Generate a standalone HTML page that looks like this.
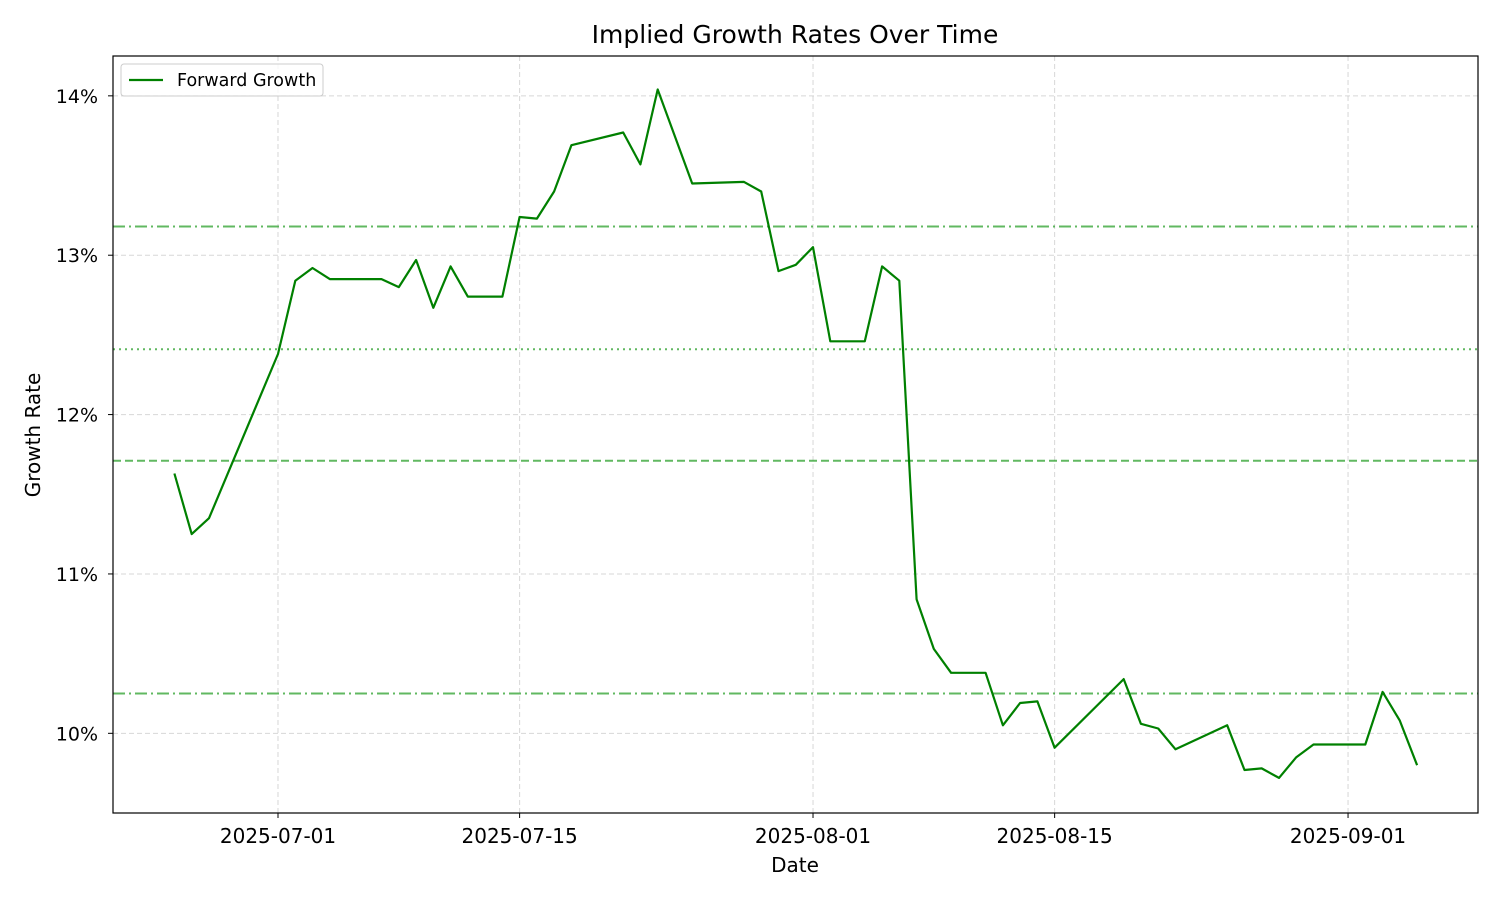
<!DOCTYPE html>
<html><head><meta charset="utf-8"><style>
body{margin:0;background:#fff;font-family:"Liberation Sans","DejaVu Sans",sans-serif}
svg text{font-family:"DejaVu Sans","Liberation Sans",sans-serif}
</style></head><body>
<svg id="chart" width="1500" height="900" xmlns="http://www.w3.org/2000/svg">
<rect width="1500" height="900" fill="#fff"/>
<g id="grid"></g><g id="refs"></g><g id="series"></g><g id="axes"></g>
</svg>
<script>
const dates=["2025-06-25","2025-06-26","2025-06-27","2025-07-01","2025-07-02","2025-07-03","2025-07-04","2025-07-07","2025-07-08","2025-07-09","2025-07-10","2025-07-11","2025-07-12","2025-07-14","2025-07-15","2025-07-16","2025-07-17","2025-07-18","2025-07-21","2025-07-22","2025-07-23","2025-07-25","2025-07-28","2025-07-29","2025-07-30","2025-07-31","2025-08-01","2025-08-02","2025-08-04","2025-08-05","2025-08-06","2025-08-07","2025-08-08","2025-08-09","2025-08-11","2025-08-12","2025-08-13","2025-08-14","2025-08-15","2025-08-19","2025-08-20","2025-08-21","2025-08-22","2025-08-25","2025-08-26","2025-08-27","2025-08-28","2025-08-29","2025-08-30","2025-09-02","2025-09-03","2025-09-04","2025-09-05"];
const growth=[11.63,11.25,11.35,12.38,12.84,12.92,12.85,12.85,12.80,12.97,12.67,12.93,12.74,12.74,13.24,13.23,13.40,13.69,13.77,13.57,14.04,13.45,13.46,13.40,12.90,12.94,13.05,12.46,12.46,12.93,12.84,10.84,10.53,10.38,10.38,10.05,10.19,10.20,9.91,10.34,10.06,10.03,9.90,10.05,9.77,9.78,9.72,9.85,9.93,9.93,10.26,10.08,9.80];
const refValues=[13.18,12.41,11.71,10.25];
const refStyles=["12,4,2,4","2,4","8,4","12,4,2,4"];
const yTicks=[10,11,12,13,14];
const xTickLabels=["2025-07-01","2025-07-15","2025-08-01","2025-08-15","2025-09-01"];
const L=113,R=1478,T=56,B=813;
const base=Date.UTC(2025,6,1);
function day(s){const p=s.split("-");return (Date.UTC(+p[0],+p[1]-1,+p[2])-base)/86400000;}
const dMin=-9.56,dMax=69.53,yMin=9.5,yMax=14.25;
const X=d=>L+(d-dMin)/(dMax-dMin)*(R-L);
const Y=v=>B-(v-yMin)/(yMax-yMin)*(B-T);
const NS="http://www.w3.org/2000/svg";
function mk(tag,attrs,parent,txt){const e=document.createElementNS(NS,tag);for(const k in attrs)e.setAttribute(k,attrs[k]);if(txt!==undefined)e.textContent=txt;document.getElementById(parent).appendChild(e);return e;}
const grid="grid",axes="axes";
yTicks.forEach(v=>{const y=Y(v);
 const g=mk("line",{x1:L,x2:R,y1:y,y2:y,stroke:"#b0b0b0","stroke-opacity":0.5,"stroke-dasharray":"5,3"},grid);
 
 
 mk("line",{x1:L-5,x2:L,y1:y,y2:y,stroke:"#000"},axes);
 const t=mk("text",{x:L-15,y:y+7,"text-anchor":"end","font-size":19},axes,v+"%");
 
 
});
xTickLabels.forEach(s=>{const x=X(day(s));
 const g=mk("line",{x1:x,x2:x,y1:T,y2:B,stroke:"#b0b0b0","stroke-opacity":0.5,"stroke-dasharray":"5,3"},grid);
 
 
 mk("line",{x1:x,x2:x,y1:B,y2:B+5,stroke:"#000"},axes);
 const t=mk("text",{x:x,y:B+30,"text-anchor":"middle","font-size":20},axes,s);
 
 
});
refValues.forEach((v,i)=>{const y=Y(v);
 const l=mk("line",{x1:L,x2:R,y1:y,y2:y,stroke:"#2ca02c","stroke-opacity":0.75,"stroke-width":2,"stroke-dasharray":refStyles[i]},"refs");
 
 
});
const pts=dates.map((d,i)=>X(day(d)).toFixed(1)+","+Y(growth[i]).toFixed(1)).join(" ");
const pl=mk("polyline",{points:pts,fill:"none",stroke:"#008000","stroke-width":2.2,"stroke-linejoin":"round"},"series");


const fr=mk("rect",{x:L,y:T,width:R-L,height:B-T,fill:"none",stroke:"#000","stroke-width":1.2},axes);


const ti=mk("text",{x:795,y:43,"text-anchor":"middle","font-size":25},axes,"Implied Growth Rates Over Time");


const xt=mk("text",{x:795,y:872,"text-anchor":"middle","font-size":20},axes,"Date");


const yt=mk("text",{x:0,y:0,"text-anchor":"middle","font-size":20,transform:"translate(40,435) rotate(-90)"},axes,"Growth Rate");


const lg=mk("rect",{x:121,y:64,width:202,height:32,rx:3,fill:"#fff","fill-opacity":0.8,stroke:"#ccc"},axes);


const ll=mk("line",{x1:129,x2:163,y1:80,y2:80,stroke:"#008000","stroke-width":2.2},axes);


const lt=mk("text",{x:177,y:86,"font-size":17.5},axes,"Forward Growth");


</script>
</body></html>
